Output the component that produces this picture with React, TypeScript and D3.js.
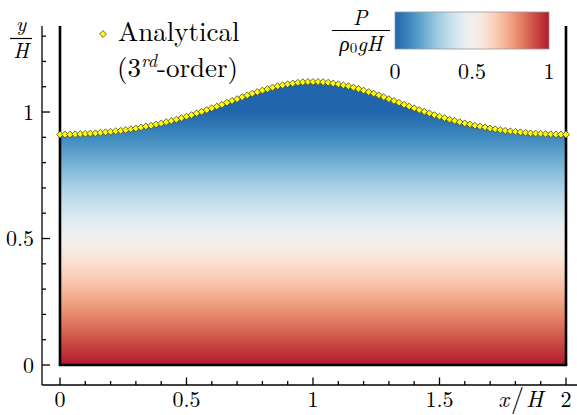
import React from 'react';
import * as d3 from 'd3';

// Free-surface elevation y/H sampled every 0.02 in x/H (0 → 2)
const SURFACE_Y = [
  0.911, 0.911, 0.911, 0.912, 0.913, 0.914, 0.915, 0.916, 0.918, 0.920,
  0.922, 0.924, 0.926, 0.929, 0.932, 0.935, 0.939, 0.943, 0.946, 0.951,
  0.955, 0.960, 0.965, 0.970, 0.976, 0.982, 0.988, 0.995, 1.001, 1.008,
  1.015, 1.022, 1.029, 1.037, 1.044, 1.051, 1.059, 1.066, 1.073, 1.079,
  1.085, 1.091, 1.097, 1.102, 1.106, 1.110, 1.113, 1.116, 1.118, 1.119,
  1.119,
  1.119, 1.118, 1.116, 1.113, 1.110, 1.106, 1.102, 1.097, 1.091, 1.085,
  1.079, 1.073, 1.066, 1.059, 1.051, 1.044, 1.037, 1.029, 1.022, 1.015,
  1.008, 1.001, 0.995, 0.988, 0.982, 0.976, 0.970, 0.965, 0.960, 0.955,
  0.951, 0.946, 0.943, 0.939, 0.935, 0.932, 0.929, 0.926, 0.924, 0.922,
  0.920, 0.918, 0.916, 0.915, 0.914, 0.913, 0.912, 0.911, 0.911, 0.911,
];
const X_STEP = 0.02;
const SURFACE_X = SURFACE_Y.map((_, i) => i * X_STEP);

const X_MAJOR = [0, 0.5, 1, 1.5, 2];
const X_LABELS = ['0', '0.5', '1', '1.5', '2'];
const Y_MAJOR = [0, 0.5, 1];
const Y_LABELS = ['0', '0.5', '1'];
const CBAR_TICKS = [0, 0.5, 1];
const CBAR_LABELS = ['0', '0.5', '1'];
const RDBU = ['#2166ac', '#4393c3', '#92c5de', '#d1e5f0', '#f7f7f7', '#fddbc7', '#f4a582', '#d6604d', '#b2182b'];

const W = 577;
const H = 415;
const TXT = { fontFamily: "'Latin Modern Roman', 'Liberation Serif'" };

export default function App() {
  const x = d3.scaleLinear().domain([-0.0711, 2.0435]).range([42, 577]);
  const y = d3.scaleLinear().domain([-0.079, 1.34]).range([385, 26]);
  const pColor = d3.scaleSequential(d3.interpolateRgbBasis(RDBU)).domain([0, 1]).clamp(true);
  const cbar = d3.scaleLinear().domain([0, 1]).range([395, 549]);

  const pts = SURFACE_X.map((xv, i) => [xv, SURFACE_Y[i]] as [number, number]);
  const area = d3.area<[number, number]>()
    .x(d => x(d[0]))
    .y0(() => y(0))
    .y1(d => y(d[1]))(pts) as string;

  const stops = d3.range(0, 1.0001, 0.05);
  const xMinor = x.ticks(20);
  const yMinor = y.ticks(14);
  const isMajor = (v: number, arr: number[]) => arr.some(a => Math.abs(a - v) < 1e-6);

  const diamond = (cx: number, cy: number, r: number) =>
    `M${cx},${cy - r}L${cx + r},${cy}L${cx},${cy + r}L${cx - r},${cy}Z`;

  const yTopWall = y.domain()[1];

  return (
    <svg width={W} height={H} style={{ position: 'absolute', left: 0, top: 0, background: '#fff' }}>
      <defs>
        {/* pressure field: P/(rho0 g H) = 0 at y/H = 1, 1 at the bed */}
        <linearGradient id="pfield" gradientUnits="userSpaceOnUse" x1={0} x2={0} y1={y(1)} y2={y(0)}>
          {stops.map(t => <stop key={t} offset={t} stopColor={pColor(t)} />)}
        </linearGradient>
        <linearGradient id="cbar" x1={0} x2={1} y1={0} y2={0}>
          {stops.map(t => <stop key={t} offset={t} stopColor={pColor(t)} />)}
        </linearGradient>
      </defs>

      {/* fluid domain */}
      <path d={area} fill="url(#pfield)" />

      {/* tank walls and bed */}
      <g stroke="#000" strokeWidth={2.6} fill="none">
        <line x1={x(0)} x2={x(0)} y1={y(yTopWall)} y2={y(0)} />
        <line x1={x(2)} x2={x(2)} y1={y(yTopWall)} y2={y(0)} />
        <line x1={x(0) - 1.3} x2={x(2) + 1.3} y1={y(0)} y2={y(0)} />
      </g>

      {/* analytical surface markers */}
      <g fill="#ffff00" stroke="#444433" strokeWidth={0.8}>
        {pts.map((d, i) => <path key={i} d={diamond(x(d[0]), y(d[1]), 3.4)} />)}
      </g>

      {/* axes */}
      <g stroke="#000" strokeWidth={1.3} fill="none">
        <line x1={x.range()[0]} x2={x.range()[1]} y1={y.range()[0]} y2={y.range()[0]} />
        <line x1={x.range()[0]} x2={x.range()[0]} y1={y.range()[0]} y2={y.range()[1]} />
        {xMinor.map(v => (
          <line key={'xt' + v} x1={x(v)} x2={x(v)} y1={y.range()[0]} y2={y.range()[0] - (isMajor(v, X_MAJOR) ? 7.5 : 4)} />
        ))}
        {yMinor.map(v => (
          <line key={'yt' + v} x1={x.range()[0]} x2={x.range()[0] + (isMajor(v, Y_MAJOR) ? 8 : 4)} y1={y(v)} y2={y(v)} />
        ))}
      </g>

      <g fontSize={22} fill="#000">
        {X_MAJOR.map((v, i) => (
          <text key={'xl' + v} style={TXT} x={x(v)} y={407} textAnchor="middle">{X_LABELS[i]}</text>
        ))}
        {Y_MAJOR.map((v, i) => (
          <text key={'yl' + v} style={TXT} x={34} y={y(v) + 7.5} textAnchor="end">{Y_LABELS[i]}</text>
        ))}
        <text style={TXT} x={543} y={407} textAnchor="end" fontStyle="italic" fontSize={23}>
          x<tspan dx={2} fontStyle="normal" fontSize={26}>/</tspan><tspan dx={2}>H</tspan>
        </text>
      </g>

      {/* y/H axis title */}
      <g fontSize={21} fontStyle="italic" fill="#000" textAnchor="middle">
        <text style={TXT} x={21} y={31}>y</text>
        <line x1={10} x2={32} y1={38.5} y2={38.5} stroke="#000" strokeWidth={1.2} />
        <text style={TXT} x={21} y={58}>H</text>
      </g>

      {/* legend */}
      <path d={diamond(103, 34, 3.4)} fill="#ffff00" stroke="#444433" strokeWidth={0.8} />
      <text style={TXT} x={118} y={41} fontSize={27}>Analytical</text>
      <text style={TXT} x={117} y={77} fontSize={27}>
        (3<tspan fontSize={18} fontStyle="italic" dy={-10}>rd</tspan><tspan dy={10}>-order)</tspan>
      </text>

      {/* colour bar */}
      <rect x={cbar(0)} y={12} width={cbar(1) - cbar(0)} height={37} fill="url(#cbar)" stroke="#999" strokeWidth={0.8} />
      <g fontSize={22} textAnchor="middle">
        {CBAR_TICKS.map((v, i) => (
          <text key={'cb' + v} style={TXT} x={cbar(v)} y={79}>{CBAR_LABELS[i]}</text>
        ))}
      </g>
      <g fontSize={21} fontStyle="italic" textAnchor="middle">
        <text style={TXT} x={360} y={25}>P</text>
        <line x1={332} x2={390} y1={30.5} y2={30.5} stroke="#000" strokeWidth={1.2} />
        <text style={TXT} x={361} y={51}>
          ρ<tspan fontStyle="normal" fontSize={15} dy={2}>0</tspan><tspan dy={-2}>gH</tspan>
        </text>
      </g>
    </svg>
  );
}
